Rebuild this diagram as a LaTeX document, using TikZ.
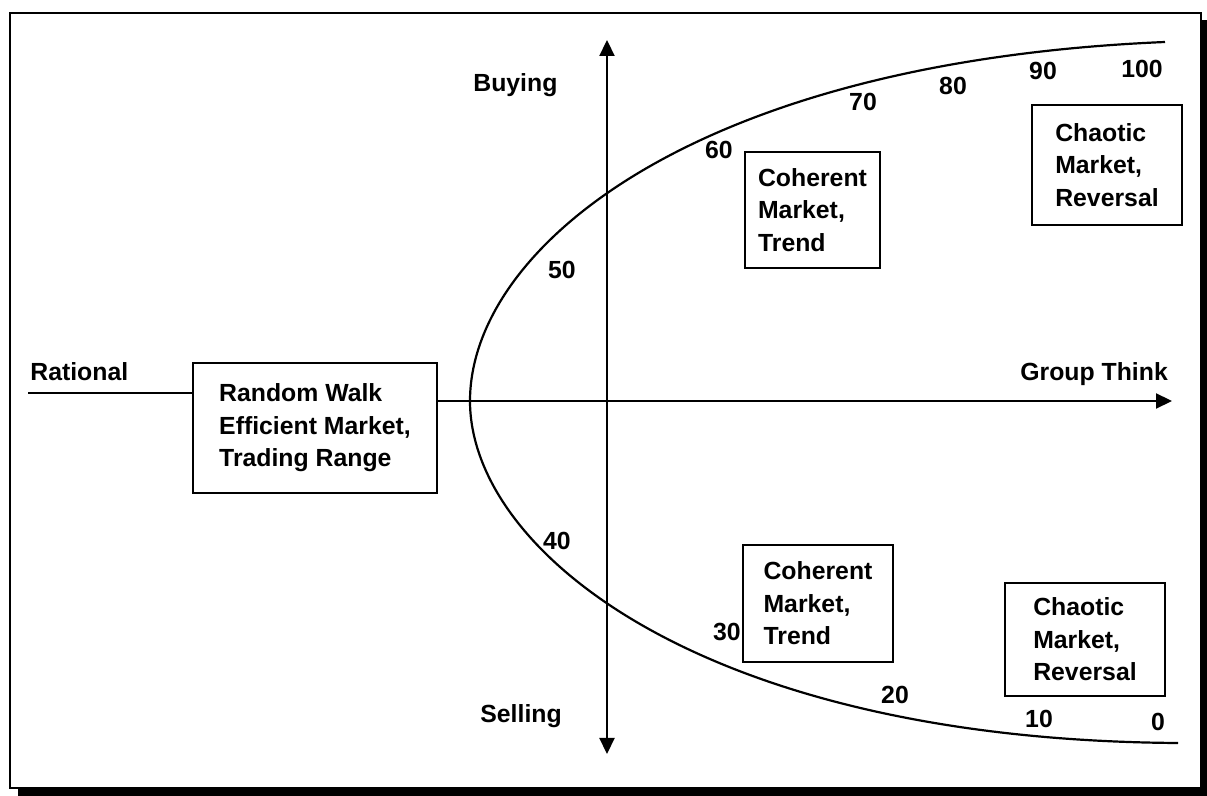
\documentclass[tikz,border=0pt]{standalone}
\usepackage{fontspec}
\setmainfont{Liberation Sans}
\usetikzlibrary{arrows.meta}

\begin{document}
\begin{tikzpicture}[
  x=0.5pt, y=-0.5pt,
  >={Triangle[length=8pt, width=7.5pt]},
  lbl/.style={inner sep=0pt, font=\fontsize{12.4}{16}\selectfont\bfseries,
    text height=8.9pt, text depth=0pt},
  mbox/.style={draw, line width=1pt, align=left, inner sep=0pt,
    font=\fontsize{12.4}{16.3}\selectfont\bfseries},
  axis/.style={line width=1.1pt},
  curve/.style={line width=1.1pt},
]
\useasboundingbox (0,0) rectangle (1207,796);

% Frame with shadow
\draw[line width=1pt] (10,13) rectangle (1201,788);
\fill (1201,20) rectangle (1207,796);
\fill (18,788) rectangle (1207,796);

% Market boxes
\node[mbox, minimum width=122pt, minimum height=65pt] (rw) at (315,428)
  {Random Walk\\Efficient Market,\\Trading Range};
\node[mbox, minimum width=67.5pt, minimum height=58pt] (coh1) at (812.5,210)
  {Coherent\\Market,\\Trend};
\node[mbox, minimum width=75pt, minimum height=58.5pt] (coh2) at (818,603.5)
  {Coherent\\Market,\\Trend};
\node[mbox, minimum width=75pt, minimum height=60pt] (cha1) at (1107,165)
  {Chaotic\\Market,\\Reversal};
\node[mbox, minimum width=80pt, minimum height=56.5pt] (cha2) at (1085,639.5)
  {Chaotic\\Market,\\Reversal};

% Axes
\coordinate (ratl) at (28,393);
\coordinate (gt) at (1172,401);
\coordinate (buy) at (607,40);
\coordinate (sell) at (607,754);
\draw[axis] (ratl) -- (ratl -| rw.west);
\draw[axis, ->] (gt -| rw.east) -- (gt);
\draw[axis, <->] (sell) -- (buy);

% Sentiment curve
\coordinate (vx) at (470,401);
\draw[curve] (1165,42) .. controls (690,62) and (470,250) .. (vx)
  .. controls (470,550) and (700,740) .. (1178,743);

% Axis labels
\node[lbl, anchor=west] (rat) at (30,372) {Rational};
\node[lbl, anchor=west] (grp) at (1020,372) {Group Think};
\node[lbl, anchor=west] (buyl) at (473,83) {Buying};
\node[lbl, anchor=west] (selll) at (480,714) {Selling};

% Scale values
\node[lbl] (n100) at (1142,69) {100};
\node[lbl] (n90) at (1043,71) {90};
\node[lbl] (n80) at (953,86) {80};
\node[lbl] (n70) at (863,102) {70};
\node[lbl] (n60) at (719,150) {60};
\node[lbl] (n50) at (562,270) {50};
\node[lbl] (n40) at (557,541) {40};
\node[lbl] (n30) at (727,632) {30};
\node[lbl] (n20) at (895,695) {20};
\node[lbl] (n10) at (1039,719) {10};
\node[lbl] (n0) at (1158,722) {0};

\end{tikzpicture}
\end{document}
